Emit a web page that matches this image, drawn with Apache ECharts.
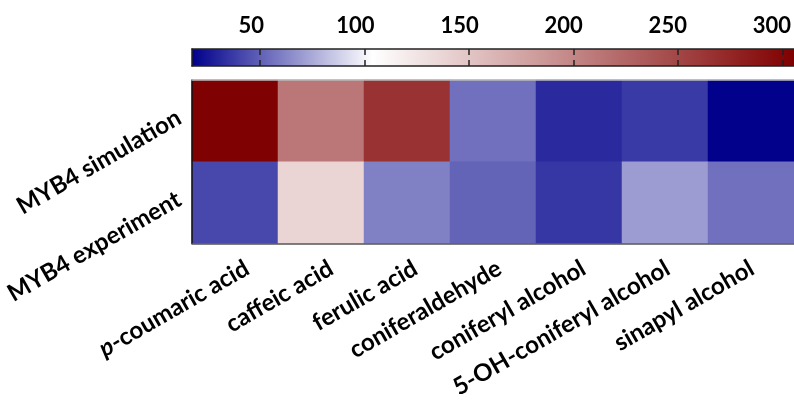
<!DOCTYPE html>
<html>
<head>
<meta charset="utf-8">
<script src="https://cdn.jsdelivr.net/npm/echarts@6/dist/echarts.min.js"></script>
<style>html,body{margin:0;padding:0;background:#fff}#c{width:794px;height:405px}</style>
</head>
<body>
<div id="c"></div>
<script>
const categories = ['p-coumaric acid', 'caffeic acid', 'ferulic acid', 'coniferaldehyde', 'coniferyl alcohol', '5-OH-coniferyl alcohol', 'sinapyl alcohol'];
const rows = ['MYB4 experiment', 'MYB4 simulation'];
const simulation = [305, 211, 265, 55.6, 32, 37.3, 18];
const experiment = [42, 138, 61, 51, 36, 70.5, 55.6];
const colorbarTicks = [50, 100, 150, 200, 250, 300];
const colorMin = 17.64;
const colorMax = 305.4;
const colorStops = ['#00008b', '#5555b2', '#aaaad8', '#ffffff', '#eddbdb', '#dbb6b6', '#c99292', '#b66d6d', '#a44949', '#922424', '#800000'];

const FONT = 'Lato';
const data = [];
simulation.forEach((v, i) => data.push([i, 1, v]));
experiment.forEach((v, i) => data.push([i, 0, v]));

const chart = echarts.init(document.getElementById('c'));
const barGradient = new echarts.graphic.LinearGradient(0, 0, 1, 0,
  colorStops.map((c, i) => ({offset: i / (colorStops.length - 1), color: c})));

chart.setOption({
  animation: false,
  grid: [
    {left: 192, top: 80, width: 606, height: 163.5},
    {left: 192, top: 49, width: 602, height: 17, show: true, backgroundColor: barGradient, borderWidth: 0},
    {left: 205, top: 75, width: 606, height: 163.5},
    {left: 184, top: 49, width: 602, height: 17}
  ],
  visualMap: {
    type: 'continuous', min: colorMin, max: colorMax, show: false, seriesIndex: 0,
    inRange: {color: colorStops}
  },
  xAxis: [
    {type: 'category', gridIndex: 0, data: categories, position: 'bottom', z: 10,
     axisLine: {lineStyle: {color: '#555', width: 1.5}}, axisTick: {show: false}, axisLabel: {show: false}},
    {type: 'category', gridIndex: 0, data: categories, position: 'top', z: 10,
     axisLine: {lineStyle: {color: '#bbb', width: 1.5}}, axisTick: {show: false}, axisLabel: {show: false}},
    {type: 'value', gridIndex: 1, min: colorMin, max: colorMax, position: 'top', z: 10,
     axisLine: {show: true, onZero: false, lineStyle: {color: '#222', width: 1.5}},
     axisTick: {show: true, inside: true, length: 6, customValues: colorbarTicks, lineStyle: {color: '#222', width: 1.5}},
     axisLabel: {show: false}, splitLine: {show: false}},
    {type: 'value', gridIndex: 1, min: colorMin, max: colorMax, position: 'bottom', z: 10,
     axisLine: {show: true, onZero: false, lineStyle: {color: '#222', width: 1.5}},
     axisTick: {show: true, inside: true, length: 6, customValues: colorbarTicks, lineStyle: {color: '#222', width: 1.5}},
     axisLabel: {show: false}, splitLine: {show: false}},
    {type: 'value', gridIndex: 3, min: colorMin, max: colorMax, position: 'top',
     axisLine: {show: false, onZero: false}, axisTick: {show: false}, splitLine: {show: false},
     axisLabel: {show: true, customValues: colorbarTicks, margin: 12, color: '#000', fontFamily: FONT, fontWeight: 'bold', fontSize: 22}},
    {type: 'category', gridIndex: 2, data: categories, position: 'bottom',
     axisLine: {show: false}, axisTick: {show: false},
     axisLabel: {show: true, interval: 0, rotate: 30, margin: 28, color: '#000', fontFamily: FONT, fontWeight: 'bold', fontSize: 24,
       formatter: function (v) { return v.indexOf('p-') === 0 ? '{i|p}' + v.slice(1) : v; },
       rich: {i: {fontStyle: 'italic', fontWeight: 'bold', fontFamily: FONT, fontSize: 24, color: '#000'}}}}
  ],
  yAxis: [
    {type: 'category', gridIndex: 0, data: rows, z: 10,
     axisLine: {show: true, lineStyle: {color: '#111', width: 1.5}}, axisTick: {show: false}, axisLabel: {show: false}},
    {type: 'value', gridIndex: 1, min: 0, max: 1, z: 10,
     axisLine: {show: true, onZero: false, lineStyle: {color: '#222', width: 1.5}}, axisTick: {show: false}, axisLabel: {show: false}, splitLine: {show: false}},
    {type: 'category', gridIndex: 2, data: rows,
     axisLine: {show: false}, axisTick: {show: false},
     axisLabel: {show: true, rotate: 30, margin: 26, color: '#000', fontFamily: FONT, fontWeight: 'bold', fontSize: 24}},
    {type: 'value', gridIndex: 3, min: 0, max: 1, show: false}
  ],
  series: [
    {type: 'heatmap', xAxisIndex: 0, yAxisIndex: 0, data: data, itemStyle: {borderWidth: 0}, emphasis: {disabled: true}}
  ]
});
</script>
</body>
</html>
